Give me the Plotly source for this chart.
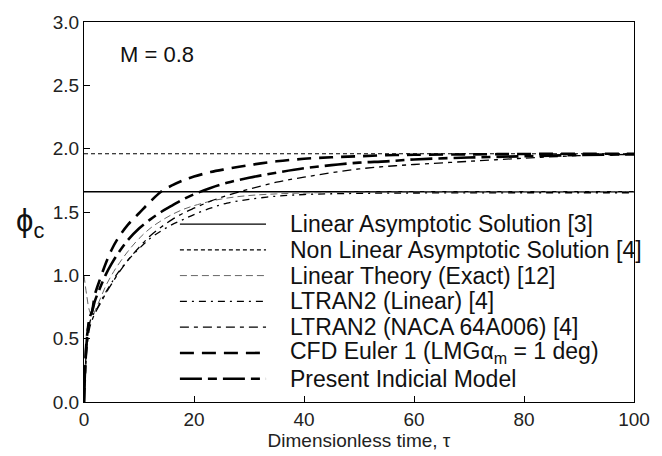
import plotly.graph_objects as go

# ---- data ----
tau = [0, 0.5, 1, 1.5, 2, 3, 4, 5, 6, 8, 10, 12, 14, 16, 18, 20, 23, 26, 30,
       35, 40, 45, 50, 55, 60, 70, 80, 90, 100]

linear_asym = 1.66
nonlinear_asym = 1.96

linear_theory = [1.00, 0.84, 0.72, 0.68, 0.72, 0.82, 0.92, 1.00, 1.07, 1.19, 1.29,
                 1.37, 1.43, 1.48, 1.52, 1.55, 1.585, 1.61, 1.63, 1.643, 1.65,
                 1.654, 1.656, 1.657, 1.658, 1.659, 1.66, 1.66, 1.66]
ltran2_linear = [0.00, 0.45, 0.62, 0.68, 0.71, 0.79, 0.87, 0.94, 1.01, 1.12, 1.21,
                 1.29, 1.35, 1.40, 1.44, 1.48, 1.53, 1.57, 1.60, 1.625, 1.638,
                 1.644, 1.647, 1.649, 1.65, 1.651, 1.652, 1.652, 1.652]
ltran2_naca = [0.00, 0.40, 0.58, 0.65, 0.70, 0.78, 0.86, 0.93, 1.00, 1.12, 1.22,
               1.31, 1.38, 1.44, 1.49, 1.53, 1.585, 1.63, 1.68, 1.735, 1.775,
               1.81, 1.84, 1.86, 1.875, 1.90, 1.925, 1.945, 1.955]
cfd_euler = [0.00, 0.50, 0.64, 0.72, 0.85, 0.98, 1.10, 1.20, 1.28, 1.40, 1.49,
             1.58, 1.66, 1.71, 1.75, 1.78, 1.815, 1.84, 1.87, 1.90, 1.92,
             1.932, 1.94, 1.948, 1.952, 1.955, 1.958, 1.96, 1.96]
present_model = [0.00, 0.48, 0.66, 0.72, 0.80, 0.91, 1.01, 1.09, 1.16, 1.28, 1.37,
                 1.44, 1.50, 1.55, 1.60, 1.64, 1.69, 1.73, 1.77, 1.81, 1.845,
                 1.87, 1.89, 1.90, 1.915, 1.93, 1.94, 1.95, 1.955]

legend_labels = [
    "Linear Asymptotic Solution [3]",
    "Non Linear Asymptotic Solution [4]",
    "Linear Theory (Exact) [12]",
    "LTRAN2 (Linear) [4]",
    "LTRAN2 (NACA 64A006) [4]",
    "CFD Euler 1 (LMGα<sub>m</sub> = 1 deg)",
    "Present Indicial Model",
]

x_ticks = [0, 20, 40, 60, 80, 100]
y_ticks = [0.0, 0.5, 1.0, 1.5, 2.0, 2.5, 3.0]

# ---- styles ----
FONT = "Liberation Sans, Arial, sans-serif"
styles = [
    dict(color="black", width=1.3, dash="solid"),
    dict(color="black", width=1.2, dash="4px,3px"),
    dict(color="#666666", width=1.0, dash="7px,4px"),
    dict(color="black", width=1.3, dash="7px,5px,2px,5px"),
    dict(color="black", width=1.3, dash="9px,5px,4px,5px"),
    dict(color="black", width=2.6, dash="14px,8px"),
    dict(color="black", width=2.6, dash="22px,6px,9px,6px"),
]

fig = go.Figure()

fig.add_trace(go.Scatter(x=[0, 100], y=[linear_asym, linear_asym], mode="lines",
                         line=styles[0], showlegend=False))
fig.add_trace(go.Scatter(x=[0, 100], y=[nonlinear_asym, nonlinear_asym], mode="lines",
                         line=styles[1], showlegend=False))
for ys, st in zip([linear_theory, ltran2_linear, ltran2_naca, cfd_euler, present_model],
                  styles[2:]):
    fig.add_trace(go.Scatter(x=tau, y=ys, mode="lines", line=st, showlegend=False,
                             line_shape="spline"))

# ---- hand-drawn legend (paper coordinates) ----
PX0, PX1, PY0, PY1 = 84, 646, 13, 408
def px(x):
    return (x - PX0) / (PX1 - PX0)
def py(y):
    return (PY1 - y) / (PY1 - PY0)

row0, dy = 223, 26.8
for i, (lab, st) in enumerate(zip(legend_labels, styles)):
    yy = row0 + i * dy
    fig.add_shape(type="line", xref="paper", yref="paper",
                  x0=px(182), x1=px(270), y0=py(yy), y1=py(yy),
                  line=st)
    fig.add_annotation(xref="paper", yref="paper", x=px(292), y=py(yy),
                       text=lab, showarrow=False, xanchor="left", yanchor="middle",
                       font=dict(family=FONT, size=23, color="#111"))

fig.add_annotation(xref="paper", yref="paper", x=px(119), y=py(47), text="M = 0.8",
                   showarrow=False, xanchor="left", yanchor="middle",
                   font=dict(family=FONT, size=22, color="#111"))

fig.add_annotation(xref="paper", yref="paper", x=px(12), y=py(222),
                   text="ϕ<sub>c</sub>", showarrow=False, xanchor="left",
                   yanchor="middle", font=dict(family=FONT, size=31, color="#111"))

axis_common = dict(showline=True, linecolor="black", linewidth=1, mirror=True,
                   ticks="inside", ticklen=6, tickcolor="black", showgrid=False,
                   zeroline=False, tickfont=dict(family=FONT, size=19, color="#222"))

fig.update_xaxes(range=[0, 100], tickvals=x_ticks, ticktext=[str(v) for v in x_ticks],
                 title=dict(text="Dimensionless time, τ", standoff=1,
                            font=dict(family=FONT, size=19, color="#222")),
                 **axis_common)
fig.update_yaxes(range=[0, 3], tickvals=y_ticks,
                 ticktext=[f"{v:.1f}" for v in y_ticks], **axis_common)

fig.update_layout(width=662, height=456, margin=dict(l=84, r=16, t=13, b=48),
                  plot_bgcolor="white", paper_bgcolor="white", showlegend=False)

fig.write_html("out.html")
